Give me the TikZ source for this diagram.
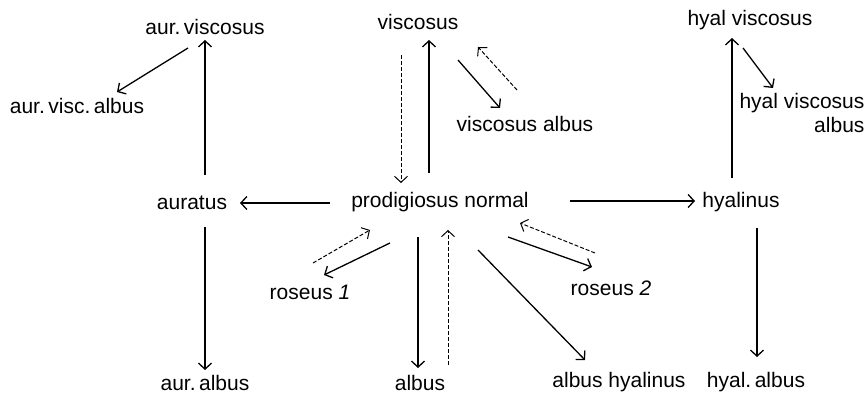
\documentclass[tikz,border=0pt]{standalone}
\usepackage{fontspec}
\setmainfont{Liberation Sans}
\usetikzlibrary{arrows.meta}

\tikzset{
  strain/.style={inner sep=0pt, font=\fontsize{21}{24}\selectfont},
  gives/.style={-{Straight Barb[length=6pt,width=13pt]}, line width=1.3pt},
  back/.style={gives, line width=1pt, dash pattern=on 4pt off 2pt}
}

\begin{document}
\begin{tikzpicture}[x=1pt,y=1pt]
\useasboundingbox (0,0) rectangle (868,396);
% strains
\node[strain] (aurvis) at (205,369) {aur.\,viscosus};
\node[strain] (vis) at (418,374) {viscosus};
\node[strain] (hvis) at (750,376) {hyal viscosus};
\node[strain] (avalb) at (77,290) {aur.\,visc.\,albus};
\node[strain] (visalb) at (525,272) {viscosus albus};
\node[strain,align=right] (hvisalb) at (802,283) {hyal viscosus\\albus};
\node[strain] (aur) at (192,193) {auratus};
\node[strain] (pn) at (440,194) {prodigiosus normal};
\node[strain] (hyal) at (741,194) {hyalinus};
\node[strain] (ros1) at (310,104) {roseus \textit{1}};
\node[strain] (ros2) at (611,108) {roseus \textit{2}};
\node[strain] (aalb) at (205,13) {aur.\,albus};
\node[strain] (alb) at (420,13) {albus};
\node[strain] (albh) at (619,14) {albus hyalinus};
\node[strain] (halb) at (756,14) {hyal.\,albus};

% auratus branch
\draw[gives] ([shift={(13,28)}]aur.center) -- ([shift={(0,-13)}]aurvis.center);
\draw[gives] ([shift={(-17,-21)}]aurvis.center) -- ([shift={(40,14)}]avalb.center);
\draw[gives] ([shift={(13,-24)}]aur.center) -- ([shift={(0,13)}]aalb.center);
\draw[gives] ([shift={(-110,-1)}]pn.center) -- ([shift={(48,0)}]aur.center);

% hyalinus branch
\draw[gives] ([shift={(130,1)}]pn.center) -- ([shift={(-46,1)}]hyal.center);
\draw[gives] ([shift={(-9,24)}]hyal.center) -- ([shift={(-18,-18)}]hvis.center);
\draw[gives] ([shift={(-7,-28)}]hvis.center) -- ([shift={(-29,25)}]hvisalb.center);
\draw[gives] ([shift={(16,-26)}]hyal.center) -- ([shift={(1,25)}]halb.center);

% viscosus
\draw[gives] ([shift={(-11,29)}]pn.center) -- ([shift={(11,-18)}]vis.center);
\draw[back] ([shift={(-17,-33)}]vis.center) -- ([shift={(-39,19)}]pn.center);
\draw[gives] ([shift={(40,-38)}]vis.center) -- ([shift={(-25,16)}]visalb.center);
\draw[back] ([shift={(-8,34)}]visalb.center) -- ([shift={(60,-25)}]vis.center);

% roseus
\draw[gives] ([shift={(-50,-41)}]pn.center) -- ([shift={(14,17)}]ros1.center);
\draw[back] ([shift={(3,29)}]ros1.center) -- ([shift={(-70,-28)}]pn.center);
\draw[gives] ([shift={(68,-35)}]pn.center) -- ([shift={(-19,21)}]ros2.center);
\draw[back] ([shift={(-16,35)}]ros2.center) -- ([shift={(80,-21)}]pn.center);

% albus
\draw[gives] ([shift={(-22,-35)}]pn.center) -- ([shift={(-2,15)}]alb.center);
\draw[back] ([shift={(28,18)}]alb.center) -- ([shift={(8,-28)}]pn.center);
\draw[gives] ([shift={(38,-48)}]pn.center) -- ([shift={(-34,22)}]albh.center);
\end{tikzpicture}
\end{document}
